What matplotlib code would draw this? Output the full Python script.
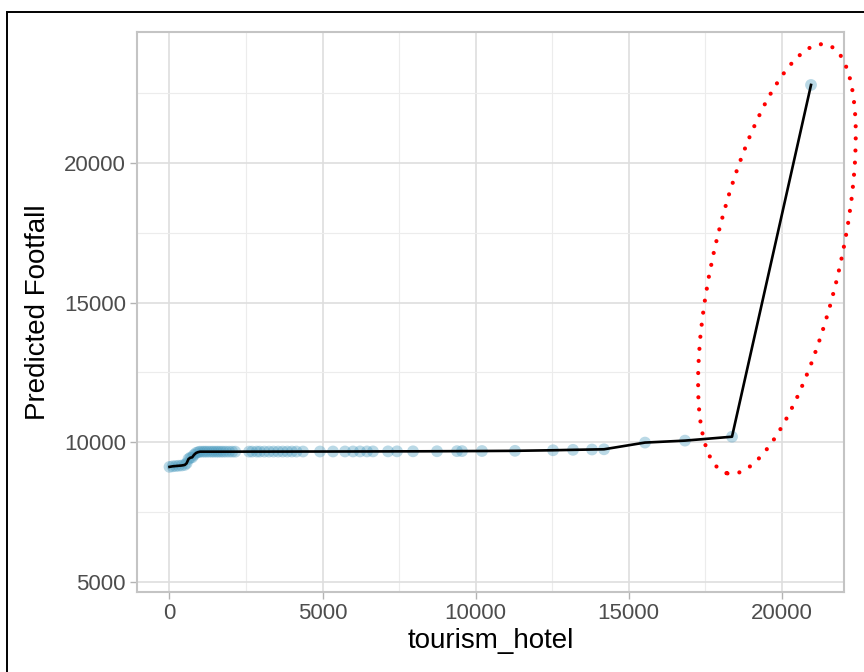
import matplotlib
matplotlib.use("Agg")
import matplotlib.pyplot as plt
from matplotlib.patches import Ellipse, Rectangle
from matplotlib.transforms import ScaledTranslation
from matplotlib.ticker import MultipleLocator

plt.rcParams['font.family'] = ['Liberation Sans', 'DejaVu Sans']

# ---- data ----
tourism_hotel = [0, 100, 200, 300, 400, 500, 560, 620, 680, 740, 800, 870, 940, 1000,
                 1080, 1150, 1220, 1300, 1380, 1450, 1530, 1600, 1680, 1760, 1850, 1950,
                 2050, 2150, 2600, 2700, 2850, 2950, 3100, 3250, 3400, 3550, 3700, 3850,
                 4000, 4150, 4363, 4918, 5343, 5735, 5997, 6225, 6454, 6650, 7141, 7435,
                 7958, 8742, 9395, 9559, 10212, 11291, 12533, 13186, 13807, 14199, 15539,
                 16846, 18382, 20964]
predicted_footfall = [9120, 9140, 9150, 9160, 9170, 9190, 9250, 9400, 9450, 9460, 9550, 9620, 9650, 9665,
                      9665, 9665, 9665, 9665, 9665, 9665, 9665, 9665, 9665, 9665, 9665, 9665,
                      9665, 9665, 9667, 9667, 9667, 9667, 9667, 9667, 9668, 9668, 9668, 9668,
                      9669, 9669, 9670, 9670, 9671, 9672, 9672, 9673, 9673, 9674, 9675, 9676,
                      9677, 9680, 9683, 9685, 9688, 9695, 9715, 9730, 9742, 9750, 9990,
                      10060, 10200, 22790]

x_ticks = [0, 5000, 10000, 15000, 20000]
y_ticks = [5000, 10000, 15000, 20000]
x_label = "tourism_hotel"
y_label = "Predicted Footfall"

fig = plt.figure(figsize=(8.64, 6.72), dpi=100)
ax = fig.add_axes([137/864, 1 - 592/672, (844-137)/864, (592-32)/672])

ax.scatter(tourism_hotel, predicted_footfall, s=72, color='#4a9bbf', alpha=0.38,
           edgecolors='none', zorder=3)
ax.plot(tourism_hotel, predicted_footfall, color='black', lw=1.9, zorder=4)

ax.set_xlim(-1062, 22042)
ax.set_ylim(4642, 24685)
ax.set_xticks(x_ticks)
ax.set_yticks(y_ticks)
ax.xaxis.set_minor_locator(MultipleLocator(2500))
ax.yaxis.set_minor_locator(MultipleLocator(2500))
ax.grid(True, which='major', color='#dedede', lw=1.2, zorder=0)
ax.grid(True, which='minor', color='#ececec', lw=0.8, zorder=0)
ax.set_axisbelow(True)
for sp in ax.spines.values():
    sp.set_color('#c4c4c4')
    sp.set_linewidth(1.5)
ax.tick_params(which='major', length=5, width=1, color='#b3b3b3', pad=3,
               labelsize=16, labelcolor='#4d4d4d')
ax.tick_params(which='minor', length=0)
ax.set_xlabel(x_label, fontsize=20, color='black', labelpad=3)
ax.set_ylabel(y_label, fontsize=20, color='black', labelpad=9)

# red dotted ellipse annotation around the last rise
ell_center = (19850, 16560)
ell = Ellipse((0, 0), width=1.26, height=4.40, angle=-13, fill=False,
              edgecolor='red', lw=3.0, linestyle=(0, (0.01, 2.9)),
              transform=fig.dpi_scale_trans + ScaledTranslation(ell_center[0], ell_center[1], ax.transData),
              clip_on=False, zorder=5)
ell.set_capstyle('round')
ax.add_patch(ell)

# outer frame (left and top edges visible)
fig.patches.append(Rectangle((7/864, -0.1), 1.2, 1.1 - 12/672, transform=fig.transFigure,
                             fill=False, edgecolor='black', lw=1.4, zorder=10))

fig.savefig("out.png", dpi=100)
